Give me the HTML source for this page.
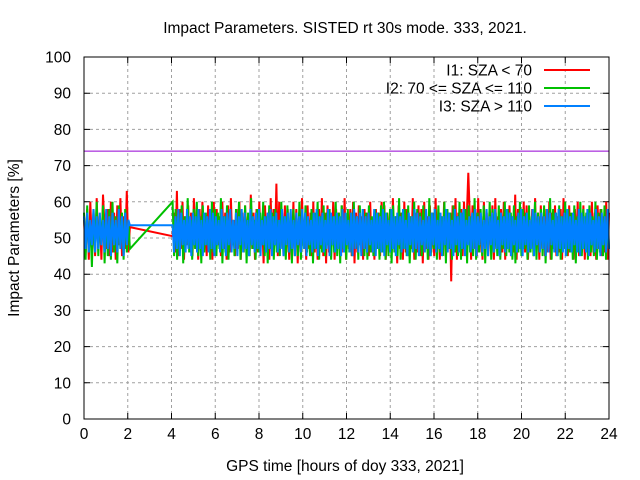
<!DOCTYPE html>
<html><head><meta charset="utf-8"><style>
body{margin:0;background:#fff}
svg{display:block;font-family:"Liberation Sans",sans-serif}
</style></head><body>
<svg id="chart" width="640" height="480" viewBox="0 0 640 480" xmlns="http://www.w3.org/2000/svg">
<rect width="640" height="480" fill="#fff"/>
<text x="345" y="33" font-size="15.5" text-anchor="middle">Impact Parameters. SISTED rt 30s mode. 333, 2021.</text>
<text transform="translate(19,238) rotate(-90)" font-size="15.5" text-anchor="middle">Impact Parameters [%]</text>
<text x="345" y="471" font-size="15.5" text-anchor="middle">GPS time [hours of doy 333, 2021]</text>
<g id="grid"></g><g id="axes"></g><g id="series"></g>
<rect x="84" y="57" width="525" height="362" fill="none" stroke="#000" stroke-width="1"/>
<g id="legend"></g>
</svg>
<script>
const xTicks=[0,2,4,6,8,10,12,14,16,18,20,22,24];
const yTicks=[0,10,20,30,40,50,60,70,80,90,100];
const thresholdValue=74;
const seg1Range=[0,2.1];
const seg2Range=[4.05,24];
const red1=[55,46,58,44,60,48,57,45,61,47,56,44,62,53,47,58,45,60,46,57,44,59,48,61,45,56,47,63,46,53];
const red2=[50.5,57,46,63,45,58,47,60,44,56,48,59,46,57,45,61,47,55,44,58,46,60,48,56,45,59,47,57,44,60,46,58,48,56,45,60,47,57,44,59,46,61,48,55,45,58,47,60,44,57,46,59,48,56,45,62,47,57,44,58,46,60,48,55,43,59,47,57,44,61,46,58,48,65,45,60,47,57,45,59,46,58,44,56,47,60,45,58,43,57,46,61,48,55,44,59,47,57,45,60,46,56,44,58,47,61,45,57,43,59,46,56,48,60,44,58,47,57,45,59,46,61,44,56,47,58,45,60,43,57,46,59,48,56,44,58,47,57,45,60,46,55,44,58,47,57,45,60,46,59,44,57,47,58,45,61,46,56,43,59,47,57,44,60,46,58,45,56,47,61,44,57,46,59,45,58,43,60,47,56,44,59,46,57,45,61,47,58,44,56,46,60,45,58,47,57,38,59,46,61,44,57,47,58,45,60,46,56,68,57,44,59,47,58,45,61,46,56,44,60,47,57,45,58,46,59,44,61,47,56,45,58,46,60,44,57,47,59,45,56,46,62,44,58,47,57,45,60,46,59,44,56,47,58,45,61,46,57,44,59,47,56,45,58,46,60,44,57,47,59,45,56,46,58,44,61,47,57,45,59,46,56,44,58,47,60,45,57,46,59,44,56,47,58,45,60,46,57,44,59,47,58,45,56,46,60,44,57];
const green1=[57,44,59,46,55,42,58,47,60,45,56,48,59,43,57,45,58,44,60,46,56,43,59,47,57,44,58,46,55,47];
const green2=[60,45,58,44,57,47,59,43,56,48,61,46,55,44,58,47,60,45,56,43,59,46,57,48,55,44,60,46,58,45,57,47,61,43,56,46,59,44,57,48,55,45,58,47,60,44,56,46,59,43,57,45,61,47,55,44,58,46,57,48,60,45,56,43,59,47,57,44,58,46,55,45,60,47,56,44,59,46,57,43,58,48,56,45,60,44,57,47,59,46,55,45,58,43,57,47,60,44,56,46,59,45,57,48,58,44,56,46,60,45,57,43,59,47,55,44,58,46,57,45,60,47,56,44,59,46,58,45,57,44,59,46,56,45,58,47,57,44,59,46,60,44,57,45,58,43,59,46,56,45,61,44,57,47,58,45,59,43,56,46,60,44,58,47,57,45,59,46,56,44,61,45,57,47,58,44,59,46,56,45,60,43,58,47,57,44,59,46,56,45,60,44,57,47,58,43,59,46,56,45,61,44,57,46,58,45,59,43,56,47,60,44,58,46,57,45,59,44,56,47,60,45,58,46,57,44,59,43,56,46,60,45,58,47,57,44,59,46,56,45,60,44,57,46,58,45,59,43,56,47,61,44,58,46,57,45,59,44,56,47,60,45,58,46,57,44,59,43,56,46,60,45,58,47,57,44,59,46,56,45,60,44,57,46,58,45,59,44,56,47];
const blue1=[56,47,57,46,55,48,58,46,56,47,57,48,55,46,58,47,56,45,57,48,55,46,58,47,56,45,57,48,55,53.5];
const blue2=[53.5,46,56,47,58,45,57,48,55,46,58,47,56,45,57,48,56,46,58,47,55,45,57,48,56,46,58,47,57,45,56,48,55,46,58,47,56,45,57,48,58,46,55,47,57,45,56,48,58,46,57,47,55,45,58,48,56,46,57,47,58,45,55,48,56,46,57,47,58,45,56,48,57,46,55,47,58,45,56,48,57,46,58,47,55,45,57,48,56,46,58,47,57,45,56,48,55,46,57,47,58,45,56,48,57,46,55,47,58,45,57,48,56,46,57,47,56,45,58,46,57,48,55,46,57,45,58,47,56,46,57,45,58,47,56,46,57,48,55,46,58,45,57,47,56,46,58,45,57,48,55,46,58,47,56,45,57,48,56,46,58,47,55,45,57,48,56,46,58,47,57,45,56,48,55,46,58,47,56,45,57,48,58,46,55,47,57,45,56,48,58,46,57,47,55,45,58,48,56,46,57,47,58,45,55,48,56,46,57,47,58,45,56,48,57,46,55,47,58,45,56,48,57,46,58,47,55,45,57,48,56,46,58,47,57,45,56,48,55,46,57,47,58,45,56,48,57,46,55,47,58,45,57,48,56,46,57,47,56,45,58,46,57,48,55,46,57,45,58,47,56,46,57,45,58,47,56,46,57,48,55,46,58,45,57,47,56,46,58,45,57,48,55,46,58,47,56,45,57,48,56,46,58,47];
const X0=84,X1=609,Y0=419,Y1=57;
const xs=t=>X0+(t-0)/24*(X1-X0);
const ys=v=>Y0-v/100*(Y0-Y1);
const NS="http://www.w3.org/2000/svg";
function mk(tag,attrs,parent){const e=document.createElementNS(NS,tag);for(const k in attrs)e.setAttribute(k,attrs[k]);parent.appendChild(e);return e;}
const grid=document.getElementById('grid'),axes=document.getElementById('axes'),ser=document.getElementById('series'),leg=document.getElementById('legend');
xTicks.forEach(t=>{const x=xs(t);
 if(t>0&&t<24){const g=mk('line',{x1:x,x2:x,y1:Y1,y2:Y0,stroke:'#a0a0a0','stroke-dasharray':'3,3'},grid);
 
 }
 const tk=mk('path',{d:`M${x},${Y0}v-6M${x},${Y1}v6`,stroke:'#000'},axes);
 
 
 const l=mk('text',{x:x,y:Y0+20,'font-size':15.5,'text-anchor':'middle'},axes);l.textContent=t;
 
 });
yTicks.forEach(v=>{const y=ys(v);
 if(v>0&&v<100){const g=mk('line',{x1:X0,x2:X1,y1:y,y2:y,stroke:'#a0a0a0','stroke-dasharray':'3,3'},grid);
 
 }
 const tk=mk('path',{d:`M${X0},${y}h6M${X1},${y}h-6`,stroke:'#000'},axes);
 
 
 const l=mk('text',{x:X0-13,y:y+5.5,'font-size':15.5,'text-anchor':'end'},axes);l.textContent=v;
 
 });
const th=mk('line',{x1:X0,x2:X1,y1:ys(thresholdValue),y2:ys(thresholdValue),stroke:'#9400d3','stroke-width':1},ser);


function pts(a,r){const n=a.length;return a.map((v,i)=>[xs(r[0]+(r[1]-r[0])*i/(n-1)),ys(v)]);}
const series=[['series-i1',red1,red2,'#ff0000'],['series-i2',green1,green2,'#00c000'],['series-i3',blue1,blue2,'#0080ff']];
series.forEach(s=>{const p=pts(s[1],seg1Range).concat(pts(s[2],seg2Range));
 const pl=mk('polyline',{points:p.map(q=>q[0].toFixed(1)+','+q[1].toFixed(1)).join(' '),fill:'none',stroke:s[3],'stroke-width':2},ser);
 
 });
const legItems=[['I1: SZA < 70','#ff0000'],['I2: 70 <= SZA <= 110','#00c000'],['I3: SZA > 110','#0080ff']];
legItems.forEach((it,i)=>{const y=70+18*i;
 const t=mk('text',{x:532,y:y+5.5,'font-size':15.5,'text-anchor':'end'},leg);t.textContent=it[0];
 
 
 const l=mk('line',{x1:544,x2:590,y1:y,y2:y,stroke:it[1],'stroke-width':2},leg);
 
 });
</script>
</body></html>
